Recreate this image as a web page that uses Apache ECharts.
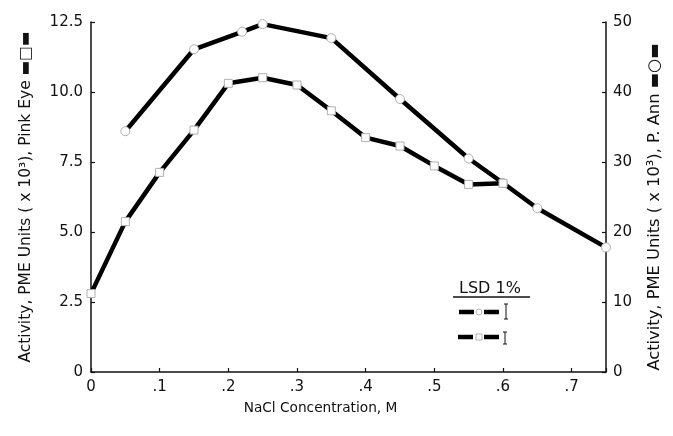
<!DOCTYPE html>
<html><head><meta charset="utf-8">
<script src="https://cdn.jsdelivr.net/npm/echarts@6/dist/echarts.min.js"></script>
<style>html,body{margin:0;padding:0;background:#fff}#c{width:673px;height:436px}</style>
</head><body><div id="c"></div>
<script>
// Pink Eye (squares, left axis)
const pinkEyeX = [0, 0.05, 0.10, 0.15, 0.20, 0.25, 0.30, 0.35, 0.40, 0.45, 0.50, 0.55, 0.60];
const pinkEyeY = [2.8, 5.37, 7.13, 8.64, 10.31, 10.51, 10.25, 9.33, 8.37, 8.07, 7.36, 6.70, 6.74];
// P. Ann (circles, right axis)
const pAnnX = [0.05, 0.15, 0.22, 0.25, 0.35, 0.45, 0.55, 0.60, 0.65, 0.75];
const pAnnY = [34.4, 46.1, 48.6, 49.7, 47.7, 39.0, 30.5, 27.0, 23.4, 17.8];
const xTicks = ['0', '.1', '.2', '.3', '.4', '.5', '.6', '.7'];
const leftTicks = ['0', '2.5', '5.0', '7.5', '10.0', '12.5'];
const rightTicks = ['0', '10', '20', '30', '40', '50'];

const FONT = 'DejaVu Sans';
const INK = '#111';
const chart = echarts.init(document.getElementById('c'), null, {renderer: 'canvas'});

function pick(list, v, step) {
  const i = Math.round(v / step);
  if (Math.abs(v / step - i) > 1e-6 || i < 0 || i >= list.length) return '';
  return list[i];
}
const axisLine = {show: true, lineStyle: {color: INK, width: 1.5}};
const axisTick = {show: true, inside: true, length: 4, lineStyle: {color: INK, width: 1.2}};
const lblStyle = {color: INK, fontFamily: FONT, fontSize: 15};
const markerStyle = {color: '#fff', borderColor: '#b0b0b0', borderWidth: 1};

const option = {
  backgroundColor: '#fff',
  animation: false,
  grid: {left: 91, right: 67, top: 22, bottom: 64},
  xAxis: {
    type: 'value', min: 0, max: 0.75, interval: 0.1,
    axisLine, axisTick, splitLine: {show: false},
    axisLabel: Object.assign({margin: 8, formatter: v => pick(xTicks, v, 0.1)}, lblStyle),
    name: 'NaCl Concentration, M', nameLocation: 'middle', nameGap: 29,
    nameTextStyle: {color: INK, fontFamily: FONT, fontSize: 13.7, padding: [0, 56, 0, 0]}
  },
  yAxis: [{
    type: 'value', min: 0, max: 12.5, interval: 2.5, position: 'left',
    axisLine, axisTick, splitLine: {show: false},
    axisLabel: Object.assign({margin: 8, formatter: v => pick(leftTicks, v, 2.5)}, lblStyle),
    name: 'Activity, PME Units ( x 10³), Pink Eye ▬□▬', nameLocation: 'middle', nameRotate: 90, nameGap: 57,
    nameTextStyle: {color: INK, fontFamily: FONT, fontSize: 15.5}
  }, {
    type: 'value', min: 0, max: 50, interval: 10, position: 'right',
    axisLine, axisTick, splitLine: {show: false},
    axisLabel: Object.assign({margin: 7, formatter: v => pick(rightTicks, v, 10)}, lblStyle),
    name: 'Activity, PME Units ( x 10³), P. Ann ▬○▬', nameLocation: 'middle', nameRotate: 90, nameGap: 41,
    nameTextStyle: {color: INK, fontFamily: FONT, fontSize: 16.3, padding: [0, 20, 0, 0]}
  }],
  series: [{
    name: 'Pink Eye', type: 'line', yAxisIndex: 0,
    data: pinkEyeX.map((x, i) => [x, pinkEyeY[i]]),
    symbol: 'rect', symbolSize: 8, showAllSymbol: true,
    itemStyle: markerStyle,
    lineStyle: {color: '#000', width: 4.5}, z: 3
  }, {
    name: 'P. Ann', type: 'line', yAxisIndex: 1,
    data: pAnnX.map((x, i) => [x, pAnnY[i]]),
    symbol: 'circle', symbolSize: 9, showAllSymbol: true,
    itemStyle: markerStyle,
    lineStyle: {color: '#000', width: 4.5}, z: 2
  }],
  graphic: [
    {type: 'text', left: 459, top: 281, style: {text: 'LSD 1%', fill: INK, font: '16px "DejaVu Sans"'}},
    {type: 'line', shape: {x1: 453, y1: 297, x2: 530, y2: 297}, style: {stroke: INK, lineWidth: 1.5}},
    {type: 'line', shape: {x1: 459, y1: 312, x2: 474, y2: 312}, style: {stroke: '#000', lineWidth: 4.5}},
    {type: 'circle', shape: {cx: 479, cy: 312, r: 3}, style: {fill: '#fff', stroke: '#b0b0b0', lineWidth: 1}},
    {type: 'line', shape: {x1: 484, y1: 312, x2: 499, y2: 312}, style: {stroke: '#000', lineWidth: 4.5}},
    {type: 'line', shape: {x1: 506, y1: 304, x2: 506, y2: 319}, style: {stroke: INK, lineWidth: 1}},
    {type: 'line', shape: {x1: 504, y1: 304, x2: 508, y2: 304}, style: {stroke: INK, lineWidth: 1}},
    {type: 'line', shape: {x1: 504, y1: 319, x2: 508, y2: 319}, style: {stroke: INK, lineWidth: 1}},
    {type: 'line', shape: {x1: 458, y1: 337, x2: 473, y2: 337}, style: {stroke: '#000', lineWidth: 4.5}},
    {type: 'rect', shape: {x: 476, y: 334, width: 6, height: 6}, style: {fill: '#fff', stroke: '#b0b0b0', lineWidth: 1}},
    {type: 'line', shape: {x1: 484, y1: 337, x2: 499, y2: 337}, style: {stroke: '#000', lineWidth: 4.5}},
    {type: 'line', shape: {x1: 505, y1: 332, x2: 505, y2: 344}, style: {stroke: INK, lineWidth: 1}},
    {type: 'line', shape: {x1: 503, y1: 332, x2: 507, y2: 332}, style: {stroke: INK, lineWidth: 1}},
    {type: 'line', shape: {x1: 503, y1: 344, x2: 507, y2: 344}, style: {stroke: INK, lineWidth: 1}}
  ]
};
chart.setOption(option);
</script>
</body></html>
